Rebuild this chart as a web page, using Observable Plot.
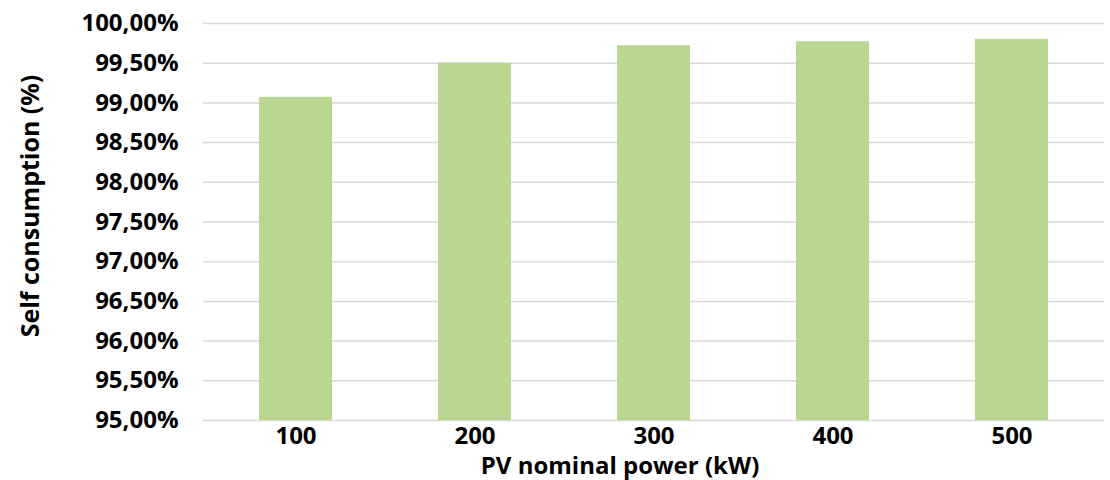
<!DOCTYPE html>
<html>
<head>
<meta charset="utf-8">
<script src="https://cdn.jsdelivr.net/npm/d3@7"></script>
<script src="https://cdn.jsdelivr.net/npm/@observablehq/plot@0.6"></script>
<style>
  html, body { margin: 0; padding: 0; background: #fff; }
</style>
</head>
<body>
<div id="chart"></div>
<script>
const categories = ["100", "200", "300", "400", "500"];
const values = [99.07, 99.50, 99.72, 99.77, 99.80];
const yTicks = [95, 95.5, 96, 96.5, 97, 97.5, 98, 98.5, 99, 99.5, 100];
const yMin = 95, yMax = 100;
const xLabel = "PV nominal power (kW)";
const yLabel = "Self consumption (%)";

const data = categories.map((c, i) => ({cat: c, value: values[i]}));
const fmt = v => v.toFixed(2).replace(".", ",") + "%";

const chart = Plot.plot({
  width: 1110,
  height: 480,
  marginTop: 23,
  marginBottom: 60,
  marginLeft: 203,
  marginRight: 6,
  style: {fontFamily: "'Open Sans', sans-serif", fontSize: "24px", fontWeight: 700, color: "#000", background: "#fff", overflow: "visible"},
  x: {domain: categories, paddingInner: 0.59, paddingOuter: 0.31, label: null},
  y: {domain: [yMin, yMax], label: null},
  marks: [
    Plot.gridY(yTicks, {stroke: "#d9d9d9", strokeOpacity: 1, strokeWidth: 1.5}),
    Plot.barY(data, {x: "cat", y1: yMin, y2: "value", fill: "#bad791"}),
    Plot.axisY(yTicks, {tickSize: 0, tickPadding: 25, tickFormat: fmt, label: null, fontSize: 24, fontWeight: 700}),
    Plot.axisX({tickSize: 0, tickPadding: 6, label: null, fontSize: 24, fontWeight: 700}),
    Plot.text([xLabel], {frameAnchor: "bottom", dx: -34, dy: 46, lineAnchor: "middle", fontSize: 24, fontWeight: 700}),
    Plot.text([yLabel], {frameAnchor: "left", dx: -173, dy: -16, rotate: -90, lineAnchor: "middle", textAnchor: "middle", fontSize: 25, fontWeight: 700})
  ]
});
document.getElementById("chart").appendChild(chart);
</script>
</body>
</html>
